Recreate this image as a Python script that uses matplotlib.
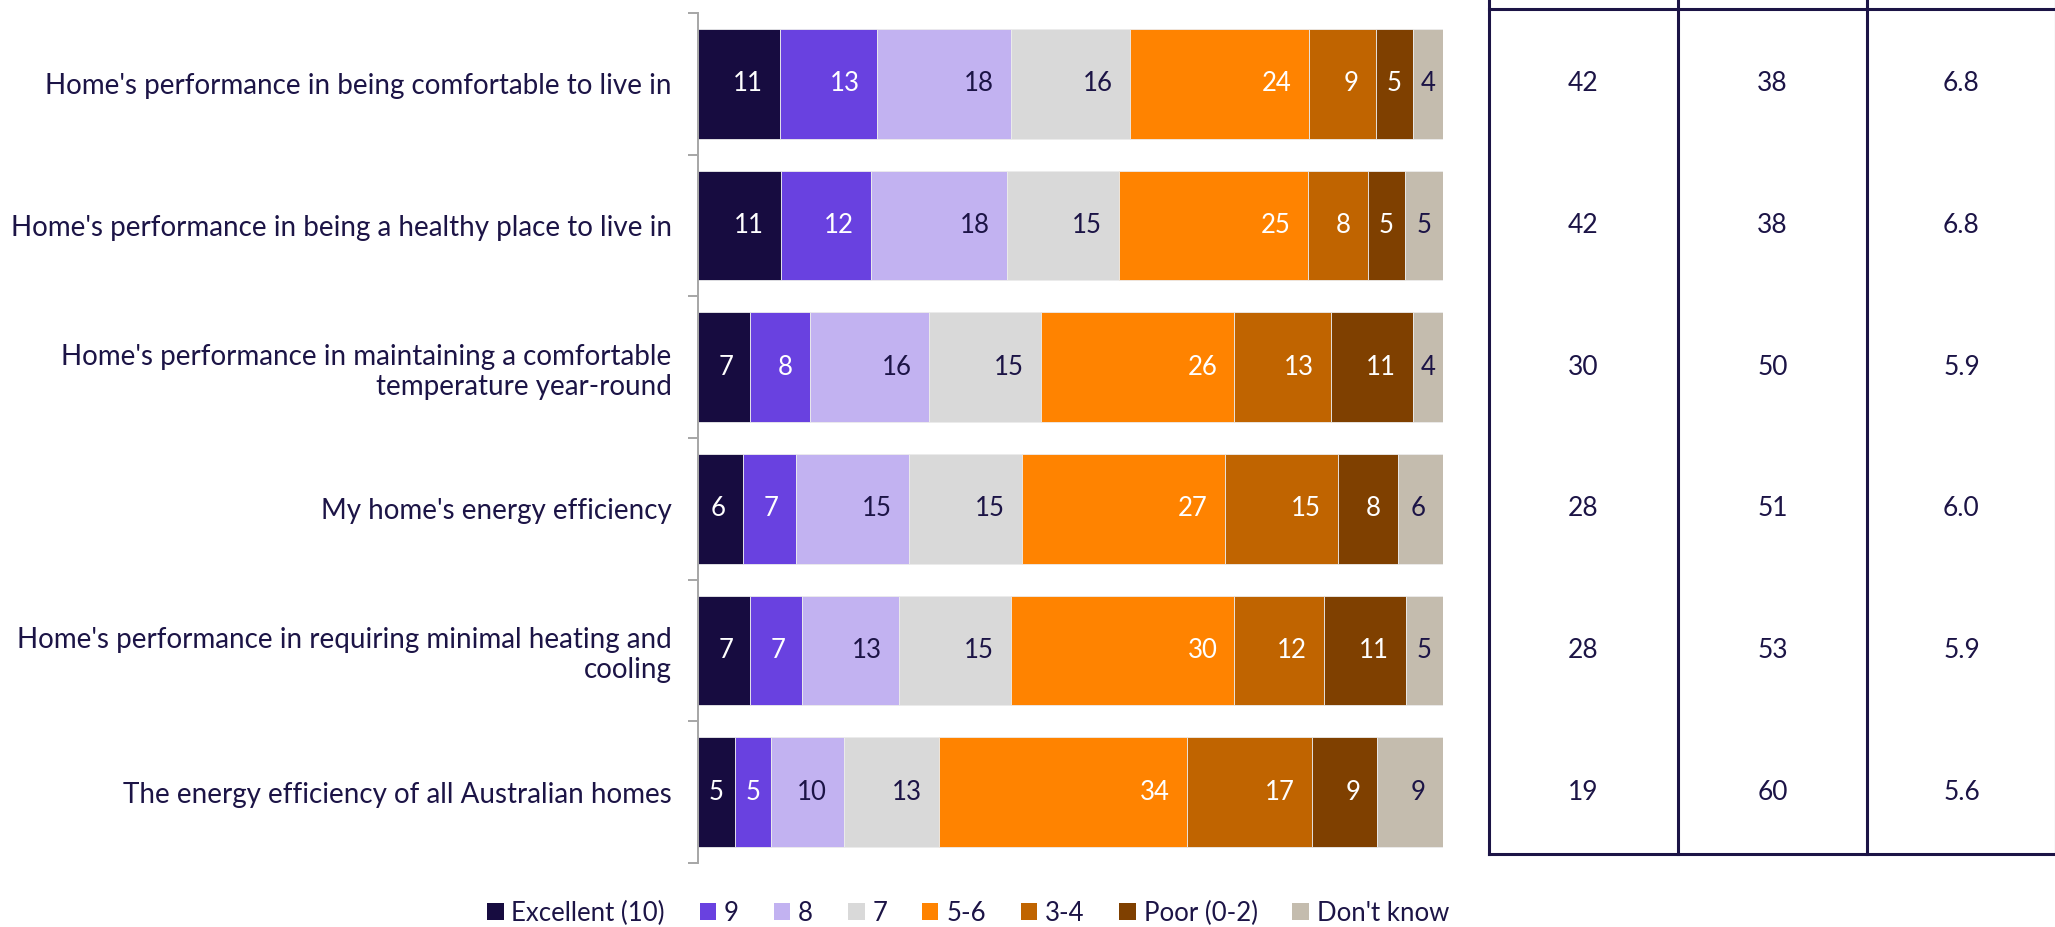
import matplotlib
matplotlib.use("Agg")
import matplotlib.pyplot as plt
from matplotlib.patches import Patch
from matplotlib.lines import Line2D
import numpy as np

plt.rcParams['font.family'] = ['Lato', 'DejaVu Sans']

categories = [
    "Home's performance in being comfortable to live in",
    "Home's performance in being a healthy place to live in",
    "Home's performance in maintaining a comfortable\ntemperature year-round",
    "My home's energy efficiency",
    "Home's performance in requiring minimal heating and\ncooling",
    "The energy efficiency of all Australian homes",
]
series_names = ["Excellent (10)", "9", "8", "7", "5-6", "3-4", "Poor (0-2)", "Don't know"]
values = [
    [11, 13, 18, 16, 24, 9, 5, 4],
    [11, 12, 18, 15, 25, 8, 5, 5],
    [7, 8, 16, 15, 26, 13, 11, 4],
    [6, 7, 15, 15, 27, 15, 8, 6],
    [7, 7, 13, 15, 30, 12, 11, 5],
    [5, 5, 10, 13, 34, 17, 9, 9],
]
table_col1 = [42, 42, 30, 28, 28, 19]
table_col2 = [38, 38, 50, 51, 53, 60]
table_col3 = ["6.8", "6.8", "5.9", "6.0", "5.9", "5.6"]

colors = ["#170c40", "#6941e0", "#c2b2f1", "#d9d9d9", "#ff8300", "#c06400", "#7f4000", "#c4bcae"]
label_colors = ["white", "white", "#1c1446", "#1c1446", "white", "white", "white", "#1c1446"]
navy = "#1c1446"

W, H = 2055, 927
fig = plt.figure(figsize=(W / 100, H / 100), dpi=100)

top_px, bot_px = 13, 863
ax_left = 698 / W
ax_right = 1443 / W
ax_top = 1 - top_px / H
ax_bot = 1 - bot_px / H
ax = fig.add_axes([ax_left, ax_bot, ax_right - ax_left, ax_top - ax_bot])

n = len(categories)
unit_px = (bot_px - top_px) / n
y = np.arange(n)
vals = np.array(values, dtype=float)
totals = vals.sum(axis=1, keepdims=True)
norm = vals / totals * 100.0

left = np.zeros(n)
pad = 2.3
digit_w = 1.45
for j, name in enumerate(series_names):
    w = norm[:, j]
    ax.barh(y, w, left=left, height=0.774, color=colors[j], edgecolor="#ececec",
            linewidth=0.6, label=name)
    for i in range(n):
        txt = str(values[i][j])
        tw = digit_w * len(txt)
        end = left[i] + w[i]
        center = left[i] + w[i] / 2
        if w[i] / 2 < pad + tw / 2:
            ax.text(center, y[i], txt, ha="center", va="center", fontsize=18.5,
                    color=label_colors[j])
        else:
            ax.text(end - pad, y[i], txt, ha="right", va="center", fontsize=18.5,
                    color=label_colors[j])
    left += w

ax.set_xlim(0, 100)
ax.set_ylim(n - 0.5, -0.5)
ax.set_yticks(y)
ax.set_yticklabels(categories, fontsize=20, color=navy, multialignment="right")
ax.tick_params(axis="y", which="major", length=0, pad=19)
ax.set_yticks(np.arange(-0.5, n, 1.0), minor=True)
ax.tick_params(axis="y", which="minor", length=7, color="#a6a6a6", width=1.4)
ax.xaxis.set_visible(False)
for s in ["top", "right", "bottom"]:
    ax.spines[s].set_visible(False)
ax.spines["left"].set_color("#a6a6a6")
ax.spines["left"].set_linewidth(1.4)

# table
t_left = 1489 / W
col_w = 189
ax2 = fig.add_axes([t_left, ax_bot, 3 * col_w / W, ax_top - ax_bot])
ax2.set_xlim(0, 3)
ax2.set_ylim(n - 0.5, -0.5)
ax2.axis("off")
lc = "#1c1446"
t_top = -0.5 - (top_px - 9) / unit_px
t_bot = n - 0.5 - (bot_px - 854) / unit_px
fig_top = -0.5 - (top_px + 2) / unit_px
for xv in [0, 1, 2, 3]:
    ax2.add_line(Line2D([xv, xv], [t_bot, fig_top], color=lc, lw=2.2, clip_on=False,
                        solid_capstyle="projecting"))
ax2.add_line(Line2D([0, 3], [t_top, t_top], color=lc, lw=2.2, clip_on=False))
ax2.add_line(Line2D([0, 3], [t_bot, t_bot], color=lc, lw=2.2, clip_on=False,
                    solid_capstyle="projecting"))
for i in range(n):
    ax2.text(0.5, y[i], str(table_col1[i]), ha="center", va="center", fontsize=19, color=navy)
    ax2.text(1.5, y[i], str(table_col2[i]), ha="center", va="center", fontsize=19, color=navy)
    ax2.text(2.5, y[i], table_col3[i], ha="center", va="center", fontsize=19, color=navy)

handles = [Patch(facecolor=c, edgecolor="none") for c in colors]
fig.legend(handles, series_names, loc="center", bbox_to_anchor=(968 / W, 1 - 913 / H),
           ncol=len(series_names), frameon=False, fontsize=18.5, labelcolor=navy,
           handlelength=0.65, handleheight=0.65, handletextpad=0.3, columnspacing=1.35)

fig.savefig("out.png", dpi=100)
